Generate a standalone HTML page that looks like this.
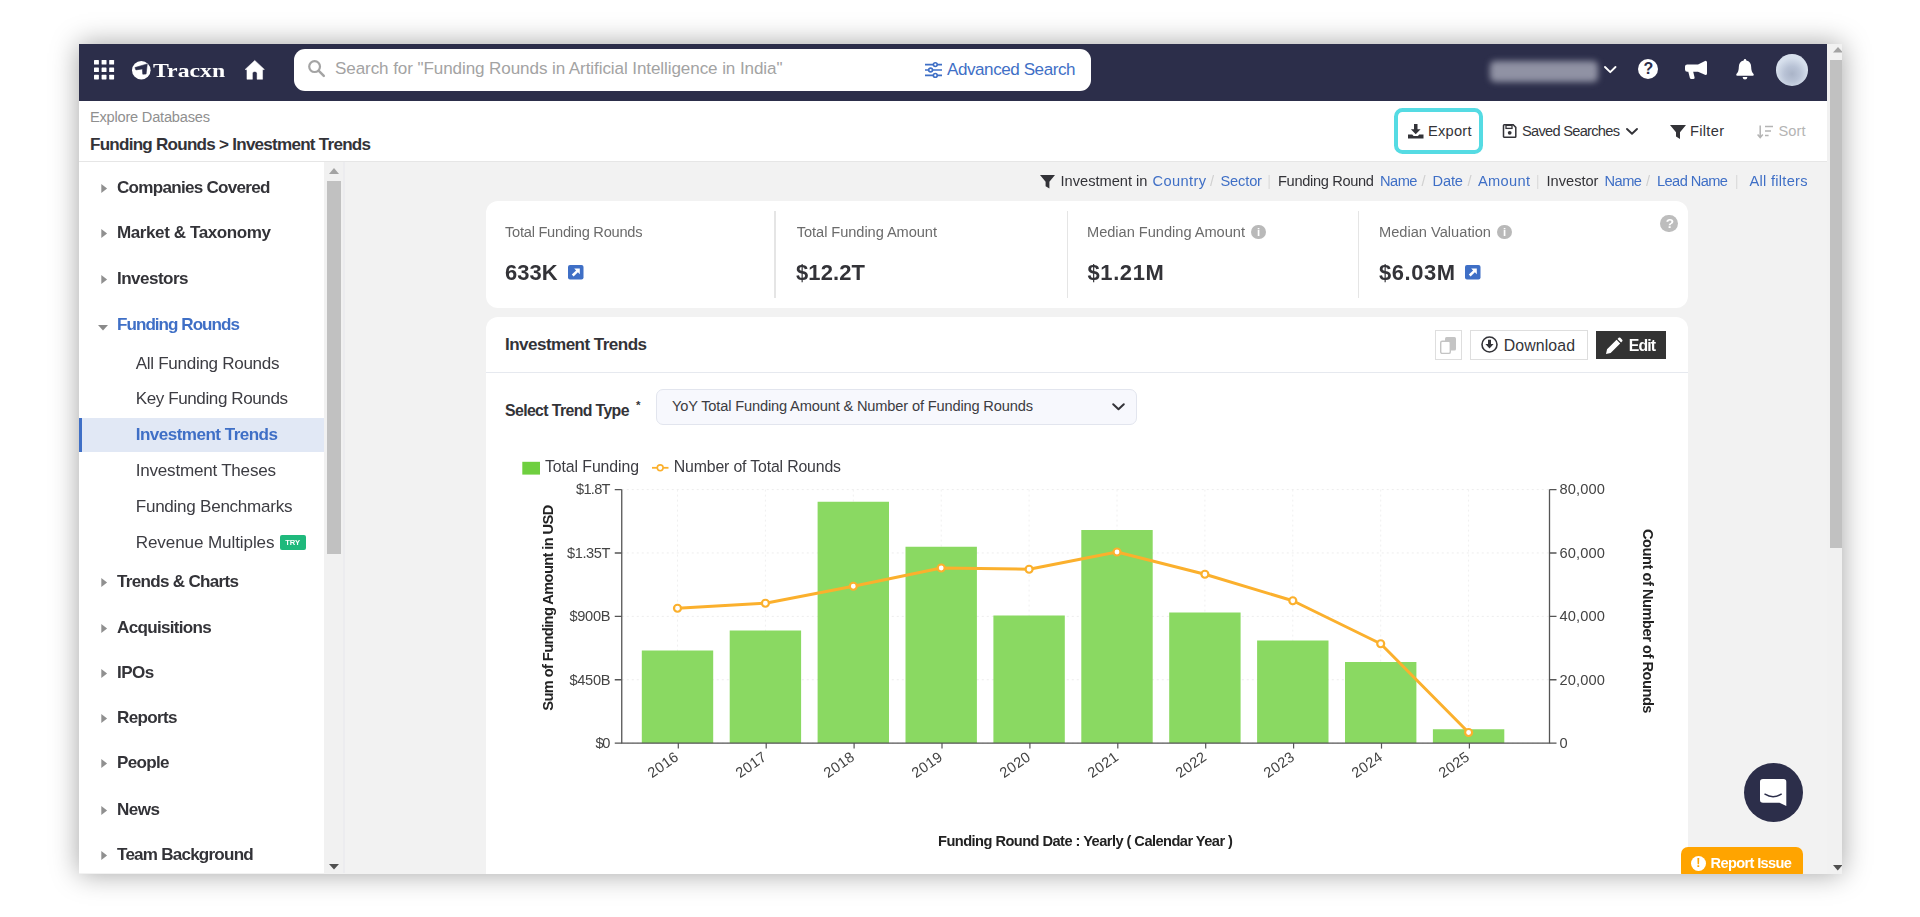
<!DOCTYPE html><html lang="en"><head><meta charset="utf-8"><title>Tracxn - Funding Rounds &gt; Investment Trends</title><style>
html,body{margin:0;padding:0;background:#fff;}body{width:1920px;height:917px;overflow:hidden;position:relative;font-family:"Liberation Sans",sans-serif;}
.t{position:absolute;white-space:pre;line-height:1;display:block;}
#shadow{position:absolute;left:78.5px;top:43.5px;width:1763.25px;height:830px;box-shadow:0 0 26px rgba(0,0,0,0.37);background:#fff;}
#frame{position:absolute;left:78.5px;top:43.5px;width:1763.25px;height:830px;overflow:hidden;background:#f2f2f2;}
#page{position:absolute;left:-78.5px;top:-43.5px;width:1920px;height:917px;filter:blur(0.5px);}
svg{overflow:visible}
</style></head><body>
<div id="shadow"></div><div id="frame"><div id="page">
<nav><div style="position:absolute;left:78.50px;top:43.50px;width:1748.25px;height:57.30px;background:#2c2e4a;"></div><svg style="position:absolute;left:93.60px;top:59.80px;" width="20.10" height="19.40" viewBox="0 0 20.1 19.4" preserveAspectRatio="none"><rect x="0.00" y="0.00" width="4.9" height="4.6" rx="0.6" fill="#fff"/><rect x="7.60" y="0.00" width="4.9" height="4.6" rx="0.6" fill="#fff"/><rect x="15.20" y="0.00" width="4.9" height="4.6" rx="0.6" fill="#fff"/><rect x="0.00" y="7.40" width="4.9" height="4.6" rx="0.6" fill="#fff"/><rect x="7.60" y="7.40" width="4.9" height="4.6" rx="0.6" fill="#fff"/><rect x="15.20" y="7.40" width="4.9" height="4.6" rx="0.6" fill="#fff"/><rect x="0.00" y="14.80" width="4.9" height="4.6" rx="0.6" fill="#fff"/><rect x="7.60" y="14.80" width="4.9" height="4.6" rx="0.6" fill="#fff"/><rect x="15.20" y="14.80" width="4.9" height="4.6" rx="0.6" fill="#fff"/></svg><svg style="position:absolute;left:132.30px;top:61.10px;" width="18.60" height="18.40" viewBox="0 0 19 19" preserveAspectRatio="none"><circle cx="9.5" cy="9.5" r="9.5" fill="#fff"/><path d="M3.0 6.8 L15.6 3.0 L14.4 13.4 L11.0 13.6 L10.6 8.2 L4.0 9.2 Z" fill="#2c2e4a" stroke="#2c2e4a" stroke-width="0.6" stroke-linejoin="round"/></svg><span class="t" style="left:153.20px;top:61.06px;font-size:19.00px;font-weight:700;color:#fff;font-family:'Liberation Serif', serif;transform-origin:0 50%;transform:scaleX(1.251);">Tracxn</span><svg style="position:absolute;left:244.50px;top:59.50px;" width="19.50" height="19.70" viewBox="0 0 20 20" preserveAspectRatio="none"><path d="M10 0.4 L19.9 9.6 L18 9.9 L18 19.6 L12.4 19.6 L12.4 13.4 Q12.4 11.6 10 11.6 Q7.6 11.6 7.6 13.4 L7.6 19.6 L2 19.6 L2 9.9 L0.1 9.6 Z" fill="#fff" stroke="#fff" stroke-width="0.5" stroke-linejoin="round"/></svg><div style="position:absolute;left:293.75px;top:48.75px;width:796.75px;height:42.50px;background:#fff;border-radius:11px;"></div><svg style="position:absolute;left:308.00px;top:60.30px;" width="17.00" height="17.00" viewBox="0 0 17 17" preserveAspectRatio="none"><circle cx="6.6" cy="6.6" r="5.4" fill="none" stroke="#a4a4a4" stroke-width="2.2"/><path d="M10.8 10.8 L15.8 15.8" stroke="#a4a4a4" stroke-width="2.5" stroke-linecap="round"/></svg><span class="t" style="left:335.00px;top:60.25px;font-size:17.07px;font-weight:400;color:#a3a3a3;letter-spacing:-0.091px;">Search for &quot;Funding Rounds in Artificial Intelligence in India&quot;</span><svg style="position:absolute;left:924.60px;top:61.50px;" width="17.00" height="16.00" viewBox="0 0 17 16" preserveAspectRatio="none"><g stroke="#3f6fc6" stroke-width="1.7" fill="none"><path d="M0 2.6H17M0 8H17M0 13.4H17"/></g><g fill="#fff" stroke="#3f6fc6" stroke-width="1.6"><circle cx="10.3" cy="2.6" r="1.9"/><circle cx="5.6" cy="8" r="1.9"/><circle cx="10.3" cy="13.4" r="1.9"/></g></svg><span class="t" style="left:947.00px;top:61.15px;font-size:17.07px;font-weight:400;color:#3f6fc6;letter-spacing:-0.443px;">Advanced Search</span><div style="position:absolute;left:1490.00px;top:60.50px;width:108.00px;height:21.00px;background:#9092a4;border-radius:5px;filter:blur(3.2px);"></div><svg style="position:absolute;left:1604.00px;top:66.00px;" width="12.50" height="7.50" viewBox="0 0 12.5 7.5" preserveAspectRatio="none"><path d="M1 1 L6.25 6.2 L11.5 1" fill="none" stroke="#fff" stroke-width="1.9" stroke-linecap="round" stroke-linejoin="round"/></svg><div style="position:absolute;left:1637.50px;top:58.75px;width:20.50px;height:20.50px;background:#fff;border-radius:50%;"></div><span class="t" style="left:1643.60px;top:61.06px;font-size:16.00px;font-weight:700;color:#2c2e4a;letter-spacing:0.000px;">?</span><svg style="position:absolute;left:1685.00px;top:60.00px;" width="22.00" height="19.00" viewBox="0 0 22 19" preserveAspectRatio="none"><path d="M20.5 0.8 Q22 0.8 22 2.3 V13.5 Q22 15 20.5 15 L13 11.7 H8.2 L9.6 17.6 Q9.9 19 8.5 19 H6.3 Q5.2 19 4.9 18 L3.3 11.7 H2.2 Q0 11.7 0 9.5 V6.6 Q0 4.4 2.2 4.4 H13 Z" fill="#fff"/></svg><svg style="position:absolute;left:1735.75px;top:58.50px;" width="18.00" height="20.50" viewBox="0 0 18 20.5" preserveAspectRatio="none"><path d="M9 0 Q10.3 0 10.3 1.4 Q15.2 2.6 15.2 8.2 Q15.2 13 17.6 14.9 Q18.4 16.6 16.8 16.8 H1.2 Q-0.4 16.6 0.4 14.9 Q2.8 13 2.8 8.2 Q2.8 2.6 7.7 1.4 Q7.7 0 9 0 Z" fill="#fff"/><path d="M6.6 18 H11.4 Q11.2 20.5 9 20.5 Q6.8 20.5 6.6 18 Z" fill="#fff"/></svg><div style="position:absolute;left:1776.25px;top:53.75px;width:31.75px;height:31.75px;border-radius:50%;background:radial-gradient(circle at 50% 62%,#aab4c8 0%,#b9c3d6 30%,#d6dfec 62%,#dbe3ef 100%);"></div></nav>
<header><div style="position:absolute;left:78.50px;top:100.80px;width:1748.25px;height:60.20px;background:#fff;border-bottom:1.2px solid #e6e6e6;"></div><span class="t" style="left:90.00px;top:110.01px;font-size:14.63px;font-weight:400;color:#8f8f8f;letter-spacing:-0.224px;">Explore Databases</span><span class="t" style="left:90.00px;top:135.55px;font-size:17.07px;font-weight:700;color:#333338;letter-spacing:-0.750px;">Funding Rounds &gt; Investment Trends</span><div style="position:absolute;left:1394.25px;top:108.25px;width:89.00px;height:45.50px;box-sizing:border-box;border:4.4px solid #55dbe3;border-radius:8.5px;background:#fff;"></div><svg style="position:absolute;left:1407.50px;top:124.00px;" width="15.50" height="14.40" viewBox="0 0 15.5 14.4" preserveAspectRatio="none"><path d="M6 0 H9.5 V5.2 H12.6 L7.75 10.2 L2.9 5.2 H6 Z" fill="#333338"/><path d="M0 10.6 H4.2 L5.6 12 H9.9 L11.3 10.6 H15.5 V14.4 H0 Z" fill="#333338"/></svg><span class="t" style="left:1428.00px;top:123.61px;font-size:14.63px;font-weight:400;color:#333338;letter-spacing:0.244px;">Export</span><svg style="position:absolute;left:1502.50px;top:123.50px;" width="13.50" height="14.00" viewBox="0 0 13.5 14" preserveAspectRatio="none"><path d="M1.2 0.8 H10.2 L12.8 3.4 V12.4 Q12.8 13.2 12 13.2 H1.2 Q0.5 13.2 0.5 12.4 V1.6 Q0.5 0.8 1.2 0.8 Z" fill="none" stroke="#333338" stroke-width="1.5"/><rect x="3" y="1.4" width="6" height="3" fill="none" stroke="#333338" stroke-width="1.3"/><circle cx="6.7" cy="8.8" r="1.9" fill="#333338"/></svg><span class="t" style="left:1522.00px;top:123.61px;font-size:14.63px;font-weight:400;color:#333338;letter-spacing:-0.718px;">Saved Searches</span><svg style="position:absolute;left:1626.00px;top:128.00px;" width="12.00" height="7.00" viewBox="0 0 12 7" preserveAspectRatio="none"><path d="M1 1 L6 5.8 L11 1" fill="none" stroke="#333338" stroke-width="1.9" stroke-linecap="round" stroke-linejoin="round"/></svg><svg style="position:absolute;left:1670.00px;top:124.50px;" width="16.00" height="14.00" viewBox="0 0 16 14" preserveAspectRatio="none"><path d="M0 0 H16 L10 7.2 V14 L6 11.6 V7.2 Z" fill="#333338"/></svg><span class="t" style="left:1690.00px;top:123.61px;font-size:14.63px;font-weight:400;color:#333338;letter-spacing:0.300px;">Filter</span><svg style="position:absolute;left:1757.00px;top:124.50px;" width="16.00" height="13.50" viewBox="0 0 16 13.5" preserveAspectRatio="none"><g stroke="#b4b4b4" fill="none" stroke-width="1.5"><path d="M3.2 0.5 V12.5 M0.6 9.6 L3.2 12.6 L5.8 9.6"/><path d="M8 1.4 H16 M8 6 H14 M8 10.6 H11.6"/></g></svg><span class="t" style="left:1778.50px;top:123.61px;font-size:14.63px;font-weight:400;color:#b4b4b4;letter-spacing:0.057px;">Sort</span></header>
<aside><div style="position:absolute;left:78.50px;top:161.80px;width:245.25px;height:711.70px;background:#fff;"></div><div style="position:absolute;left:323.50px;top:161.80px;width:21.50px;height:711.70px;background:linear-gradient(90deg,#f1f1f1 0,#f1f1f1 19.5px,#ececef 19.5px,#ececef 21.5px);"></div><div style="position:absolute;left:326.75px;top:181.00px;width:14.50px;height:372.75px;background:#c1c1c1;"></div><svg style="position:absolute;left:328.60px;top:168.30px;" width="10.00" height="5.90" viewBox="0 0 10 5.5" preserveAspectRatio="none"><path d="M0 5.5 L5 0 L10 5.5 Z" fill="#a3a3a3"/></svg><svg style="position:absolute;left:328.75px;top:864.00px;" width="10.00" height="5.50" viewBox="0 0 10 5.5" preserveAspectRatio="none"><path d="M0 0 L5 5.5 L10 0 Z" fill="#505050"/></svg><svg style="position:absolute;left:101.00px;top:184.10px;" width="6.30" height="9.00" viewBox="0 0 6.5 9.5" preserveAspectRatio="none"><path d="M0.3 0 L6.3 4.75 L0.3 9.5 Z" fill="#909090"/></svg><span class="t" style="left:117.00px;top:179.15px;font-size:17.07px;font-weight:700;color:#333338;letter-spacing:-0.719px;">Companies Covered</span><svg style="position:absolute;left:101.00px;top:229.40px;" width="6.30" height="9.00" viewBox="0 0 6.5 9.5" preserveAspectRatio="none"><path d="M0.3 0 L6.3 4.75 L0.3 9.5 Z" fill="#909090"/></svg><span class="t" style="left:117.00px;top:224.45px;font-size:17.07px;font-weight:700;color:#333338;letter-spacing:-0.430px;">Market &amp; Taxonomy</span><svg style="position:absolute;left:101.00px;top:274.70px;" width="6.30" height="9.00" viewBox="0 0 6.5 9.5" preserveAspectRatio="none"><path d="M0.3 0 L6.3 4.75 L0.3 9.5 Z" fill="#909090"/></svg><span class="t" style="left:117.00px;top:269.75px;font-size:17.07px;font-weight:700;color:#333338;letter-spacing:-0.547px;">Investors</span><svg style="position:absolute;left:98.00px;top:325.00px;" width="10.00" height="5.50" viewBox="0 0 10 5.5" preserveAspectRatio="none"><path d="M0 0 L5 5.5 L10 0 Z" fill="#8a8a8a"/></svg><span class="t" style="left:117.00px;top:315.55px;font-size:17.07px;font-weight:700;color:#3f6fc6;letter-spacing:-0.964px;">Funding Rounds</span><div style="position:absolute;left:78.50px;top:418.25px;width:245.25px;height:33.75px;background:#e1e8f5;border-left:3px solid #3f6fc6;box-sizing:border-box;"></div><span class="t" style="left:135.75px;top:354.55px;font-size:17.07px;font-weight:400;color:#3c3c42;letter-spacing:-0.304px;">All Funding Rounds</span><span class="t" style="left:135.75px;top:390.35px;font-size:17.07px;font-weight:400;color:#3c3c42;letter-spacing:-0.418px;">Key Funding Rounds</span><span class="t" style="left:135.75px;top:426.15px;font-size:17.07px;font-weight:700;color:#3f6fc6;letter-spacing:-0.532px;">Investment Trends</span><span class="t" style="left:135.75px;top:461.95px;font-size:17.07px;font-weight:400;color:#3c3c42;letter-spacing:-0.225px;">Investment Theses</span><span class="t" style="left:135.75px;top:497.75px;font-size:17.07px;font-weight:400;color:#3c3c42;letter-spacing:-0.264px;">Funding Benchmarks</span><span class="t" style="left:135.75px;top:533.55px;font-size:17.07px;font-weight:400;color:#3c3c42;letter-spacing:-0.102px;">Revenue Multiples</span><div style="position:absolute;left:279.50px;top:534.50px;width:26.25px;height:15.00px;background:#1fb97c;border-radius:2px;"></div><span class="t" style="left:285.20px;top:538.87px;font-size:7.60px;font-weight:700;color:#fff;letter-spacing:0.047px;">TRY</span><svg style="position:absolute;left:101.00px;top:577.50px;" width="6.30" height="9.00" viewBox="0 0 6.5 9.5" preserveAspectRatio="none"><path d="M0.3 0 L6.3 4.75 L0.3 9.5 Z" fill="#909090"/></svg><span class="t" style="left:117.00px;top:572.55px;font-size:17.07px;font-weight:700;color:#333338;letter-spacing:-0.700px;">Trends &amp; Charts</span><svg style="position:absolute;left:101.00px;top:624.10px;" width="6.30" height="9.00" viewBox="0 0 6.5 9.5" preserveAspectRatio="none"><path d="M0.3 0 L6.3 4.75 L0.3 9.5 Z" fill="#909090"/></svg><span class="t" style="left:117.00px;top:619.15px;font-size:17.07px;font-weight:700;color:#333338;letter-spacing:-0.695px;">Acquisitions</span><svg style="position:absolute;left:101.00px;top:668.70px;" width="6.30" height="9.00" viewBox="0 0 6.5 9.5" preserveAspectRatio="none"><path d="M0.3 0 L6.3 4.75 L0.3 9.5 Z" fill="#909090"/></svg><span class="t" style="left:117.00px;top:663.75px;font-size:17.07px;font-weight:700;color:#333338;letter-spacing:-0.547px;">IPOs</span><svg style="position:absolute;left:101.00px;top:714.20px;" width="6.30" height="9.00" viewBox="0 0 6.5 9.5" preserveAspectRatio="none"><path d="M0.3 0 L6.3 4.75 L0.3 9.5 Z" fill="#909090"/></svg><span class="t" style="left:117.00px;top:709.25px;font-size:17.07px;font-weight:700;color:#333338;letter-spacing:-0.661px;">Reports</span><svg style="position:absolute;left:101.00px;top:759.40px;" width="6.30" height="9.00" viewBox="0 0 6.5 9.5" preserveAspectRatio="none"><path d="M0.3 0 L6.3 4.75 L0.3 9.5 Z" fill="#909090"/></svg><span class="t" style="left:117.00px;top:754.45px;font-size:17.07px;font-weight:700;color:#333338;letter-spacing:-0.691px;">People</span><svg style="position:absolute;left:101.00px;top:806.30px;" width="6.30" height="9.00" viewBox="0 0 6.5 9.5" preserveAspectRatio="none"><path d="M0.3 0 L6.3 4.75 L0.3 9.5 Z" fill="#909090"/></svg><span class="t" style="left:117.00px;top:801.35px;font-size:17.07px;font-weight:700;color:#333338;letter-spacing:-0.526px;">News</span><svg style="position:absolute;left:101.00px;top:850.70px;" width="6.30" height="9.00" viewBox="0 0 6.5 9.5" preserveAspectRatio="none"><path d="M0.3 0 L6.3 4.75 L0.3 9.5 Z" fill="#909090"/></svg><span class="t" style="left:117.00px;top:845.75px;font-size:17.07px;font-weight:700;color:#333338;letter-spacing:-0.775px;">Team Background</span></aside>
<main><div style="position:absolute;left:1826.75px;top:43.50px;width:15.00px;height:830.00px;background:#f1f1f1;"></div><div style="position:absolute;left:1829.75px;top:60.00px;width:12.00px;height:487.50px;background:#c1c1c1;"></div><svg style="position:absolute;left:1832.60px;top:47.20px;" width="10.00" height="5.50" viewBox="0 0 10 5.5" preserveAspectRatio="none"><path d="M0 5.5 L5 0 L10 5.5 Z" fill="#a3a3a3"/></svg><svg style="position:absolute;left:1832.50px;top:864.50px;" width="9.50" height="5.50" viewBox="0 0 10 5.5" preserveAspectRatio="none"><path d="M0 0 L5 5.5 L10 0 Z" fill="#505050"/></svg><svg style="position:absolute;left:1040.00px;top:174.50px;" width="15.00" height="13.50" viewBox="0 0 15 13.5" preserveAspectRatio="none"><path d="M0 0 H15 L9.4 6.8 V13.5 L5.6 11.2 V6.8 Z" fill="#333338"/></svg><span class="t" style="left:1060.50px;top:173.61px;font-size:14.63px;font-weight:400;color:#333338;letter-spacing:0.001px;">Investment in</span><span class="t" style="left:1152.50px;top:173.61px;font-size:14.63px;font-weight:400;color:#3f6fc6;letter-spacing:0.380px;">Country</span><span class="t" style="left:1210.00px;top:173.61px;font-size:14.63px;font-weight:400;color:#d0d0d0;letter-spacing:0.000px;">/</span><span class="t" style="left:1220.50px;top:173.61px;font-size:14.63px;font-weight:400;color:#3f6fc6;letter-spacing:-0.156px;">Sector</span><span class="t" style="left:1267.20px;top:173.61px;font-size:14.63px;font-weight:400;color:#dcdcdc;letter-spacing:0.000px;">|</span><span class="t" style="left:1278.00px;top:173.61px;font-size:14.63px;font-weight:400;color:#333338;letter-spacing:-0.335px;">Funding Round</span><span class="t" style="left:1380.00px;top:173.61px;font-size:14.63px;font-weight:400;color:#3f6fc6;letter-spacing:-0.505px;">Name</span><span class="t" style="left:1421.50px;top:173.61px;font-size:14.63px;font-weight:400;color:#d0d0d0;letter-spacing:0.000px;">/</span><span class="t" style="left:1432.50px;top:173.61px;font-size:14.63px;font-weight:400;color:#3f6fc6;letter-spacing:-0.135px;">Date</span><span class="t" style="left:1467.50px;top:173.61px;font-size:14.63px;font-weight:400;color:#d0d0d0;letter-spacing:0.000px;">/</span><span class="t" style="left:1478.00px;top:173.61px;font-size:14.63px;font-weight:400;color:#3f6fc6;letter-spacing:0.319px;">Amount</span><span class="t" style="left:1535.70px;top:173.61px;font-size:14.63px;font-weight:400;color:#dcdcdc;letter-spacing:0.000px;">|</span><span class="t" style="left:1546.50px;top:173.61px;font-size:14.63px;font-weight:400;color:#333338;letter-spacing:-0.004px;">Investor</span><span class="t" style="left:1604.50px;top:173.61px;font-size:14.63px;font-weight:400;color:#3f6fc6;letter-spacing:-0.505px;">Name</span><span class="t" style="left:1646.00px;top:173.61px;font-size:14.63px;font-weight:400;color:#d0d0d0;letter-spacing:0.000px;">/</span><span class="t" style="left:1657.00px;top:173.61px;font-size:14.63px;font-weight:400;color:#3f6fc6;letter-spacing:-0.578px;">Lead Name</span><span class="t" style="left:1734.70px;top:173.61px;font-size:14.63px;font-weight:400;color:#dcdcdc;letter-spacing:0.000px;">|</span><span class="t" style="left:1749.50px;top:173.61px;font-size:14.63px;font-weight:400;color:#3f6fc6;letter-spacing:0.273px;">All filters</span><div style="position:absolute;left:485.50px;top:201.25px;width:1202.00px;height:106.55px;background:#fff;border-radius:12px;"></div><div style="position:absolute;left:774.45px;top:211.00px;width:1.10px;height:86.75px;background:#e5e5e5;"></div><div style="position:absolute;left:1066.70px;top:211.00px;width:1.10px;height:86.75px;background:#e5e5e5;"></div><div style="position:absolute;left:1357.70px;top:211.00px;width:1.10px;height:86.75px;background:#e5e5e5;"></div><span class="t" style="left:505.00px;top:225.01px;font-size:14.63px;font-weight:400;color:#6b6b6b;letter-spacing:-0.252px;">Total Funding Rounds</span><span class="t" style="left:796.75px;top:225.01px;font-size:14.63px;font-weight:400;color:#6b6b6b;letter-spacing:-0.064px;">Total Funding Amount</span><span class="t" style="left:1087.00px;top:225.01px;font-size:14.63px;font-weight:400;color:#6b6b6b;letter-spacing:-0.027px;">Median Funding Amount</span><span class="t" style="left:1379.00px;top:225.01px;font-size:14.63px;font-weight:400;color:#6b6b6b;letter-spacing:0.004px;">Median Valuation</span><div style="position:absolute;left:1251.00px;top:224.60px;width:14.50px;height:14.50px;background:#b9b9b9;border-radius:50%;"></div><span class="t" style="left:1256.95px;top:226.63px;font-size:11.31px;font-weight:700;color:#fff;letter-spacing:0.000px;">i</span><div style="position:absolute;left:1497.00px;top:224.60px;width:14.50px;height:14.50px;background:#b9b9b9;border-radius:50%;"></div><span class="t" style="left:1502.95px;top:226.63px;font-size:11.31px;font-weight:700;color:#fff;letter-spacing:0.000px;">i</span><div style="position:absolute;left:1660.00px;top:214.50px;width:17.50px;height:17.50px;background:#bdbdbd;border-radius:50%;"></div><span class="t" style="left:1665.65px;top:216.95px;font-size:13.65px;font-weight:700;color:#fff;letter-spacing:0.000px;">?</span><span class="t" style="left:505.00px;top:262.42px;font-size:21.95px;font-weight:700;color:#333338;letter-spacing:0.016px;">633K</span><svg style="position:absolute;left:568.00px;top:264.50px;" width="15.50" height="14.50" viewBox="0 0 15.5 14.5" preserveAspectRatio="none"><rect x="0" y="0" width="15.5" height="14.5" rx="2" fill="#3f6fc6"/><path d="M6.2 3.6 H11.8 V9.2 L9.9 7.3 L5.6 11.4 L3.8 9.6 L8.1 5.5 Z" fill="#fff"/></svg><span class="t" style="left:796.00px;top:262.42px;font-size:21.95px;font-weight:700;color:#333338;letter-spacing:0.138px;">$12.2T</span><span class="t" style="left:1087.50px;top:262.42px;font-size:21.95px;font-weight:700;color:#333338;letter-spacing:0.616px;">$1.21M</span><span class="t" style="left:1379.00px;top:262.42px;font-size:21.95px;font-weight:700;color:#333338;letter-spacing:0.566px;">$6.03M</span><svg style="position:absolute;left:1465.00px;top:264.50px;" width="15.50" height="14.50" viewBox="0 0 15.5 14.5" preserveAspectRatio="none"><rect x="0" y="0" width="15.5" height="14.5" rx="2" fill="#3f6fc6"/><path d="M6.2 3.6 H11.8 V9.2 L9.9 7.3 L5.6 11.4 L3.8 9.6 L8.1 5.5 Z" fill="#fff"/></svg><div style="position:absolute;left:485.50px;top:317.30px;width:1202.00px;height:582.70px;background:#fff;border-radius:12px;"></div><div style="position:absolute;left:485.50px;top:372.40px;width:1202.00px;height:1.10px;background:#e6e9ef;"></div><span class="t" style="left:505.00px;top:335.55px;font-size:17.07px;font-weight:700;color:#333338;letter-spacing:-0.548px;">Investment Trends</span><div style="position:absolute;left:1434.50px;top:330.00px;width:27.25px;height:29.75px;box-sizing:border-box;border:1px solid #dedede;background:#fff;"></div><svg style="position:absolute;left:1440.00px;top:336.50px;" width="16.00" height="17.00" viewBox="0 0 16 17" preserveAspectRatio="none"><rect x="5" y="0" width="11" height="13.5" rx="1.5" fill="#c4c4c4"/><rect x="0.7" y="4.2" width="9.6" height="12.2" rx="1.5" fill="#fff" stroke="#c4c4c4" stroke-width="1.4"/></svg><div style="position:absolute;left:1469.50px;top:330.00px;width:118.00px;height:29.75px;box-sizing:border-box;border:1px solid #dedede;background:#fff;"></div><svg style="position:absolute;left:1481.00px;top:336.30px;" width="17.00" height="17.00" viewBox="0 0 17 17" preserveAspectRatio="none"><circle cx="8.5" cy="8.5" r="7.5" fill="none" stroke="#333338" stroke-width="1.6"/><path d="M7 3.8 H10 V8 H12.6 L8.5 12.6 L4.4 8 H7 Z" fill="#333338"/></svg><span class="t" style="left:1503.75px;top:338.38px;font-size:15.85px;font-weight:400;color:#333338;letter-spacing:0.112px;">Download</span><div style="position:absolute;left:1596.25px;top:331.00px;width:70.00px;height:27.50px;background:#333;"></div><svg style="position:absolute;left:1606.00px;top:336.50px;" width="17.00" height="17.00" viewBox="0 -1 18 18" preserveAspectRatio="none"><path d="M0 17 L1.1 12.1 L11.2 2 L15 5.8 L4.9 15.9 Z M12.2 1 L13.4 -0.2 Q14.3 -1 15.2 -0.1 L17.1 1.8 Q18 2.7 17.2 3.6 L16 4.8 Z" fill="#fff"/></svg><span class="t" style="left:1628.75px;top:338.38px;font-size:15.85px;font-weight:700;color:#fff;letter-spacing:-0.896px;">Edit</span><span class="t" style="left:505.00px;top:402.58px;font-size:15.85px;font-weight:700;color:#333338;letter-spacing:-0.621px;">Select Trend Type</span><span class="t" style="left:636.00px;top:399.77px;font-size:11.50px;font-weight:700;color:#333338;letter-spacing:0.000px;">*</span><div style="position:absolute;left:656.25px;top:388.50px;width:480.50px;height:36.00px;box-sizing:border-box;border:1px solid #e2e5ee;background:#f7f8fd;border-radius:7px;"></div><span class="t" style="left:672.00px;top:399.01px;font-size:14.63px;font-weight:400;color:#3c3c42;letter-spacing:-0.157px;">YoY Total Funding Amount &amp; Number of Funding Rounds</span><svg style="position:absolute;left:1112.00px;top:402.75px;" width="13.00" height="7.75" viewBox="0 0 13 7.75" preserveAspectRatio="none"><path d="M1.2 1.2 L6.5 6.3 L11.8 1.2" fill="none" stroke="#333338" stroke-width="2" stroke-linecap="round" stroke-linejoin="round"/></svg><svg style="position:absolute;left:0;top:0" width="1920" height="917" viewBox="0 0 1920 917"><path d="M621.75 489.60 H1549.5" stroke="#ededed" stroke-width="1" stroke-dasharray="2 3" fill="none"/><path d="M621.75 552.98 H1549.5" stroke="#ededed" stroke-width="1" stroke-dasharray="2 3" fill="none"/><path d="M621.75 616.35 H1549.5" stroke="#ededed" stroke-width="1" stroke-dasharray="2 3" fill="none"/><path d="M621.75 679.73 H1549.5" stroke="#ededed" stroke-width="1" stroke-dasharray="2 3" fill="none"/><path d="M621.75 743.10 H1549.5" stroke="#ededed" stroke-width="1" stroke-dasharray="2 3" fill="none"/><path d="M677.50 489.6 V743.1" stroke="#f0f0f0" stroke-width="1" stroke-dasharray="2 3" fill="none"/><path d="M765.40 489.6 V743.1" stroke="#f0f0f0" stroke-width="1" stroke-dasharray="2 3" fill="none"/><path d="M853.30 489.6 V743.1" stroke="#f0f0f0" stroke-width="1" stroke-dasharray="2 3" fill="none"/><path d="M941.20 489.6 V743.1" stroke="#f0f0f0" stroke-width="1" stroke-dasharray="2 3" fill="none"/><path d="M1029.10 489.6 V743.1" stroke="#f0f0f0" stroke-width="1" stroke-dasharray="2 3" fill="none"/><path d="M1117.00 489.6 V743.1" stroke="#f0f0f0" stroke-width="1" stroke-dasharray="2 3" fill="none"/><path d="M1204.90 489.6 V743.1" stroke="#f0f0f0" stroke-width="1" stroke-dasharray="2 3" fill="none"/><path d="M1292.80 489.6 V743.1" stroke="#f0f0f0" stroke-width="1" stroke-dasharray="2 3" fill="none"/><path d="M1380.70 489.6 V743.1" stroke="#f0f0f0" stroke-width="1" stroke-dasharray="2 3" fill="none"/><path d="M1468.60 489.6 V743.1" stroke="#f0f0f0" stroke-width="1" stroke-dasharray="2 3" fill="none"/><rect x="641.80" y="650.5" width="71.4" height="92.60" fill="#8ad962"/><rect x="729.70" y="630.5" width="71.4" height="112.60" fill="#8ad962"/><rect x="817.60" y="501.75" width="71.4" height="241.35" fill="#8ad962"/><rect x="905.50" y="546.75" width="71.4" height="196.35" fill="#8ad962"/><rect x="993.40" y="615.5" width="71.4" height="127.60" fill="#8ad962"/><rect x="1081.30" y="530" width="71.4" height="213.10" fill="#8ad962"/><rect x="1169.20" y="612.5" width="71.4" height="130.60" fill="#8ad962"/><rect x="1257.10" y="640.5" width="71.4" height="102.60" fill="#8ad962"/><rect x="1345.00" y="662" width="71.4" height="81.10" fill="#8ad962"/><rect x="1432.90" y="729.25" width="71.4" height="13.85" fill="#8ad962"/><path d="M621.75 489.6 V743.1 H1549.5 V489.6" fill="none" stroke="#555" stroke-width="1.3"/><path d="M614.75 489.60 H621.75 M1549.5 489.60 H1556.5" stroke="#555" stroke-width="1.3"/><path d="M614.75 552.98 H621.75 M1549.5 552.98 H1556.5" stroke="#555" stroke-width="1.3"/><path d="M614.75 616.35 H621.75 M1549.5 616.35 H1556.5" stroke="#555" stroke-width="1.3"/><path d="M614.75 679.73 H621.75 M1549.5 679.73 H1556.5" stroke="#555" stroke-width="1.3"/><path d="M614.75 743.10 H621.75 M1549.5 743.10 H1556.5" stroke="#555" stroke-width="1.3"/><path d="M678.30 743.1 V748.6" stroke="#555" stroke-width="1.2"/><path d="M766.20 743.1 V748.6" stroke="#555" stroke-width="1.2"/><path d="M854.10 743.1 V748.6" stroke="#555" stroke-width="1.2"/><path d="M942.00 743.1 V748.6" stroke="#555" stroke-width="1.2"/><path d="M1029.90 743.1 V748.6" stroke="#555" stroke-width="1.2"/><path d="M1117.80 743.1 V748.6" stroke="#555" stroke-width="1.2"/><path d="M1205.70 743.1 V748.6" stroke="#555" stroke-width="1.2"/><path d="M1293.60 743.1 V748.6" stroke="#555" stroke-width="1.2"/><path d="M1381.50 743.1 V748.6" stroke="#555" stroke-width="1.2"/><path d="M1469.40 743.1 V748.6" stroke="#555" stroke-width="1.2"/><path d="M677.50 608.25 L765.40 603.25 L853.30 586.25 L941.20 568 L1029.10 569.25 L1117.00 552 L1204.90 574.25 L1292.80 600.75 L1380.70 643.75 L1468.60 732.5" fill="none" stroke="#fbb02d" stroke-width="3" stroke-linejoin="round"/><circle cx="677.50" cy="608.25" r="3.5" fill="#fff" stroke="#fbb02d" stroke-width="2.2"/><circle cx="765.40" cy="603.25" r="3.5" fill="#fff" stroke="#fbb02d" stroke-width="2.2"/><circle cx="853.30" cy="586.25" r="3.5" fill="#fff" stroke="#fbb02d" stroke-width="2.2"/><circle cx="941.20" cy="568" r="3.5" fill="#fff" stroke="#fbb02d" stroke-width="2.2"/><circle cx="1029.10" cy="569.25" r="3.5" fill="#fff" stroke="#fbb02d" stroke-width="2.2"/><circle cx="1117.00" cy="552" r="3.5" fill="#fff" stroke="#fbb02d" stroke-width="2.2"/><circle cx="1204.90" cy="574.25" r="3.5" fill="#fff" stroke="#fbb02d" stroke-width="2.2"/><circle cx="1292.80" cy="600.75" r="3.5" fill="#fff" stroke="#fbb02d" stroke-width="2.2"/><circle cx="1380.70" cy="643.75" r="3.5" fill="#fff" stroke="#fbb02d" stroke-width="2.2"/><circle cx="1468.60" cy="732.5" r="3.5" fill="#fff" stroke="#fbb02d" stroke-width="2.2"/><rect x="522.3" y="461.8" width="17.7" height="12.8" fill="#6fcf3f"/><path d="M652 467.8 H668.5" stroke="#fbb02d" stroke-width="1.8"/><circle cx="660.2" cy="467.8" r="2.9" fill="#fff" stroke="#fbb02d" stroke-width="1.6"/></svg><span class="t" style="left:545.00px;top:459.38px;font-size:15.85px;font-weight:400;color:#3c3c42;letter-spacing:-0.094px;">Total Funding</span><span class="t" style="left:673.75px;top:459.38px;font-size:15.85px;font-weight:400;color:#3c3c42;letter-spacing:-0.158px;">Number of Total Rounds</span><span class="t" style="left:576.00px;top:482.41px;font-size:14.63px;font-weight:400;color:#444;letter-spacing:-0.727px;">$1.8T</span><span class="t" style="left:1559.50px;top:482.41px;font-size:14.63px;font-weight:400;color:#444;letter-spacing:0.153px;">80,000</span><span class="t" style="left:567.00px;top:545.79px;font-size:14.63px;font-weight:400;color:#444;letter-spacing:-0.409px;">$1.35T</span><span class="t" style="left:1559.50px;top:545.79px;font-size:14.63px;font-weight:400;color:#444;letter-spacing:0.153px;">60,000</span><span class="t" style="left:569.50px;top:609.16px;font-size:14.63px;font-weight:400;color:#444;letter-spacing:-0.324px;">$900B</span><span class="t" style="left:1559.50px;top:609.16px;font-size:14.63px;font-weight:400;color:#444;letter-spacing:0.153px;">40,000</span><span class="t" style="left:569.50px;top:672.54px;font-size:14.63px;font-weight:400;color:#444;letter-spacing:-0.324px;">$450B</span><span class="t" style="left:1559.50px;top:672.54px;font-size:14.63px;font-weight:400;color:#444;letter-spacing:0.153px;">20,000</span><span class="t" style="left:595.50px;top:735.91px;font-size:14.63px;font-weight:400;color:#444;letter-spacing:-1.281px;">$0</span><span class="t" style="left:1559.50px;top:735.91px;font-size:14.63px;font-weight:400;color:#444;letter-spacing:0.000px;">0</span><span class="t" style="left:640.30px;top:747.30px;width:40px;text-align:right;font-size:14.63px;color:#444;letter-spacing:0.35px;transform-origin:100% 12.38px;transform:rotate(-35deg);">2016</span><span class="t" style="left:728.20px;top:747.30px;width:40px;text-align:right;font-size:14.63px;color:#444;letter-spacing:0.35px;transform-origin:100% 12.38px;transform:rotate(-35deg);">2017</span><span class="t" style="left:816.10px;top:747.30px;width:40px;text-align:right;font-size:14.63px;color:#444;letter-spacing:0.35px;transform-origin:100% 12.38px;transform:rotate(-35deg);">2018</span><span class="t" style="left:904.00px;top:747.30px;width:40px;text-align:right;font-size:14.63px;color:#444;letter-spacing:0.35px;transform-origin:100% 12.38px;transform:rotate(-35deg);">2019</span><span class="t" style="left:991.90px;top:747.30px;width:40px;text-align:right;font-size:14.63px;color:#444;letter-spacing:0.35px;transform-origin:100% 12.38px;transform:rotate(-35deg);">2020</span><span class="t" style="left:1079.80px;top:747.30px;width:40px;text-align:right;font-size:14.63px;color:#444;letter-spacing:0.35px;transform-origin:100% 12.38px;transform:rotate(-35deg);">2021</span><span class="t" style="left:1167.70px;top:747.30px;width:40px;text-align:right;font-size:14.63px;color:#444;letter-spacing:0.35px;transform-origin:100% 12.38px;transform:rotate(-35deg);">2022</span><span class="t" style="left:1255.60px;top:747.30px;width:40px;text-align:right;font-size:14.63px;color:#444;letter-spacing:0.35px;transform-origin:100% 12.38px;transform:rotate(-35deg);">2023</span><span class="t" style="left:1343.50px;top:747.30px;width:40px;text-align:right;font-size:14.63px;color:#444;letter-spacing:0.35px;transform-origin:100% 12.38px;transform:rotate(-35deg);">2024</span><span class="t" style="left:1431.40px;top:747.30px;width:40px;text-align:right;font-size:14.63px;color:#444;letter-spacing:0.35px;transform-origin:100% 12.38px;transform:rotate(-35deg);">2025</span><span class="t" style="left:938.00px;top:833.61px;font-size:14.63px;font-weight:700;color:#222;letter-spacing:-0.542px;">Funding Round Date : Yearly ( Calendar Year )</span><span class="t" id="ytl" style="left:547.5px;top:608px;font-size:14.63px;font-weight:700;color:#222;letter-spacing:-0.6px;transform:translate(-50%,-50%) rotate(-90deg);">Sum of Funding Amount in USD</span><span class="t" id="ytr" style="left:1648px;top:621.3px;font-size:14.63px;font-weight:700;color:#222;letter-spacing:-0.47px;transform:translate(-50%,-50%) rotate(90deg);">Count of Number of Rounds</span></main>
<footer><div style="position:absolute;left:1743.75px;top:763.00px;width:59.25px;height:59.25px;background:#2c2e4a;border-radius:50%;"></div><svg style="position:absolute;left:1760.00px;top:778.50px;" width="26.30" height="27.00" viewBox="0 0 26.3 27" preserveAspectRatio="none"><path d="M3 0 H23.5 Q26.3 0 26.3 2.8 V27 L19.5 23.8 H3 Q0 23.8 0 21 V2.8 Q0 0 3 0 Z" fill="#fff"/><path d="M5 15.2 Q13 20.2 21.2 15.2" fill="none" stroke="#2c2e4a" stroke-width="1.5" stroke-linecap="round"/></svg><div style="position:absolute;left:1681.25px;top:846.75px;width:121.75px;height:33.25px;background:#ffa400;border-radius:7px;"></div><div style="position:absolute;left:1690.50px;top:855.50px;width:15.00px;height:15.00px;background:#fff;border-radius:50%;"></div><span class="t" style="left:1696.20px;top:857.02px;font-size:12.50px;font-weight:700;color:#ffa400;letter-spacing:0.000px;">!</span><span class="t" style="left:1710.50px;top:855.91px;font-size:14.63px;font-weight:700;color:#fff;letter-spacing:-0.645px;">Report Issue</span></footer>
</div></div></body></html>
